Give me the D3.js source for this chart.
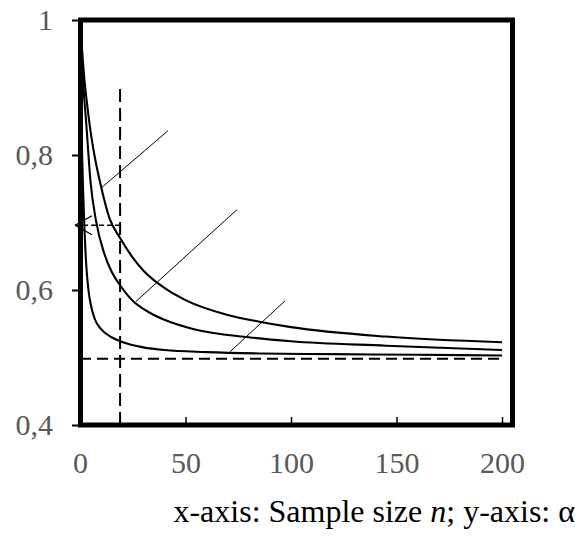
<!DOCTYPE html>
<html>
<head>
<meta charset="utf-8">
<script src="https://cdn.jsdelivr.net/npm/d3@7"></script>
<style>
  html, body { margin: 0; padding: 0; background: #fff; }
  svg { display: block; }
</style>
</head>
<body>
<svg id="chart" width="578" height="539"></svg>
<script>
// ---- data ----
const xTicks = [0, 50, 100, 150, 200];
const yTicks = [0.4, 0.6, 0.8, 1];

const curveTopN     = [0, 1, 2, 3, 5, 7, 10, 14, 19, 25, 30, 40, 50, 70, 85, 100, 145, 200];
const curveTopA     = [1, 0.955, 0.915, 0.885, 0.835, 0.797, 0.753, 0.706, 0.677, 0.648, 0.629, 0.603, 0.585, 0.563, 0.553, 0.545, 0.531, 0.5225];

const curveMidN     = [0, 1, 2, 3, 5, 7.5, 11.5, 15, 19, 26, 30, 35, 40, 54, 80, 100, 145, 200];
const curveMidA     = [1, 0.93, 0.885, 0.845, 0.76, 0.704, 0.654, 0.627, 0.607, 0.581, 0.572, 0.563, 0.556, 0.542, 0.53, 0.524, 0.5175, 0.511];

const curveLowN     = [0, 0.5, 1, 1.5, 2, 3, 4, 5, 7, 10, 15, 20, 30, 40, 60, 85, 120, 160, 200];
const curveLowA     = [1, 0.88, 0.80, 0.745, 0.70, 0.635, 0.60, 0.58, 0.557, 0.542, 0.53, 0.523, 0.515, 0.511, 0.508, 0.506, 0.505, 0.504, 0.503];

// pointer (label) lines: [n1, a1, n2, a2]
const pointerLines = [
  [10.0, 0.751, 41.7, 0.836],
  [26.5, 0.583, 74.4, 0.719],
  [71.1, 0.5085, 97.2, 0.584]
];

const limitAlpha = 0.498;      // horizontal dashed asymptote
const markN = 19;              // vertical dashed line
const markTopAlpha = 0.901;
const arrowAlpha = 0.696;      // horizontal dashed arrow
const arrowTipN = -2.4;

const titleParts = [
  { text: "x-axis: Sample size ", italic: false },
  { text: "n", italic: true },
  { text: "; y-axis: \u03b1", italic: false }
];

// ---- drawing ----
const svg = d3.select("#chart");
const font = "'Liberation Serif', 'Times New Roman', serif";

const x = d3.scaleLinear().domain([0, 200]).range([80, 502]);
const y = d3.scaleLinear().domain([0.4, 1]).range([425, 20]);

const frameRight = 512.5;
const frameLeft = 80.5;

// y axis
const yAxis = d3.axisLeft(y).tickValues(yTicks).tickSize(8).tickPadding(19)
  .tickFormat(d => d === 1 ? "1" : d3.format(".1f")(d).replace(".", ","));
const gy = svg.append("g").attr("transform", "translate(80,0)").call(yAxis);
gy.select(".domain").remove();
gy.selectAll(".tick line").attr("stroke", "#000").attr("stroke-width", 2);
gy.selectAll(".tick text").attr("font-family", font).attr("font-size", 30)
  .attr("fill", "#595959");

// x axis
const xAxis = d3.axisBottom(x).tickValues(xTicks).tickSize(-8).tickFormat(d3.format("d"));
const gx = svg.append("g").attr("transform", "translate(0,425)").call(xAxis);
gx.select(".domain").remove();
gx.selectAll(".tick line").attr("stroke", "#000").attr("stroke-width", 1.5);
gx.selectAll(".tick text").attr("dy", null).attr("y", 48)
  .attr("font-family", font).attr("font-size", 30).attr("fill", "#595959");

// dashed reference lines
svg.append("line")
  .attr("x1", x(0)).attr("x2", x(200))
  .attr("y1", y(limitAlpha)).attr("y2", y(limitAlpha))
  .attr("stroke", "#000").attr("stroke-width", 2).attr("stroke-dasharray", "11,6");
svg.append("line")
  .attr("x1", x(markN)).attr("x2", x(markN))
  .attr("y1", y(0.4)).attr("y2", y(markTopAlpha))
  .attr("stroke", "#000").attr("stroke-width", 2).attr("stroke-dasharray", "13,6");

// arrow
const tipX = x(arrowTipN), tipY = y(arrowAlpha);
svg.append("line")
  .attr("x1", x(markN)).attr("x2", tipX)
  .attr("y1", tipY).attr("y2", tipY)
  .attr("stroke", "#000").attr("stroke-width", 1.5).attr("stroke-dasharray", "5,3");
[-1, 1].forEach(s => {
  svg.append("line")
    .attr("x1", tipX).attr("y1", tipY)
    .attr("x2", tipX + 17).attr("y2", tipY + s * 9.5)
    .attr("stroke", "#000").attr("stroke-width", 1.3);
});

// curves
const line = d3.line().x(d => x(d[0])).y(d => y(d[1])).curve(d3.curveMonotoneX);
[[curveTopN, curveTopA], [curveMidN, curveMidA], [curveLowN, curveLowA]].forEach(([ns, as]) => {
  svg.append("path")
    .attr("d", line(ns.map((n, i) => [n, as[i]])))
    .attr("fill", "none").attr("stroke", "#000").attr("stroke-width", 2.1);
});

// pointer lines
pointerLines.forEach(p => {
  svg.append("line")
    .attr("x1", x(p[0])).attr("y1", y(p[1]))
    .attr("x2", x(p[2])).attr("y2", y(p[3]))
    .attr("stroke", "#000").attr("stroke-width", 1);
});

// frame
svg.append("rect")
  .attr("x", frameLeft).attr("y", y(1))
  .attr("width", frameRight - frameLeft).attr("height", y(0.4) - y(1))
  .attr("fill", "none").attr("stroke", "#000").attr("stroke-width", 5)
  .attr("stroke-linejoin", "miter");

// title
const t = svg.append("text")
  .attr("x", 575).attr("y", 522).attr("text-anchor", "end")
  .attr("font-family", font).attr("font-size", 32).attr("fill", "#000");
titleParts.forEach(p => {
  t.append("tspan").text(p.text).attr("font-style", p.italic ? "italic" : "normal");
});
</script>
</body>
</html>
